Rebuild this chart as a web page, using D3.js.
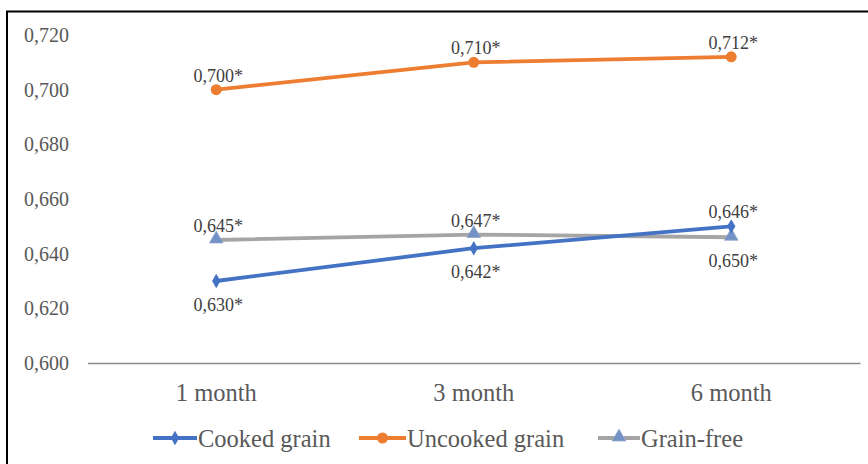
<!DOCTYPE html>
<html><head><meta charset="utf-8">
<script src="https://cdn.jsdelivr.net/npm/d3@7"></script>
<style>body{margin:0;background:#fff}svg{display:block}</style>
</head><body>
<svg id="c" width="868" height="464"></svg>
<script>
const categories = ["1 month", "3 month", "6 month"];
const cooked = [0.630, 0.642, 0.650];
const uncooked = [0.700, 0.710, 0.712];
const grainFree = [0.645, 0.647, 0.646];
const cookedLabels = ["0,630*", "0,642*", "0,646*"];
const uncookedLabels = ["0,700*", "0,710*", "0,712*"];
const grainFreeLabels = ["0,645*", "0,647*", "0,650*"];
const yTicks = [0.600, 0.620, 0.640, 0.660, 0.680, 0.700, 0.720];
const seriesNames = ["Cooked grain", "Uncooked grain", "Grain-free"];

const svg = d3.select("#c");
const font = "'Liberation Serif', 'Times New Roman', serif";

// frame
svg.append("path").attr("d", "M7,470 L7,11.5 L875,11.5").attr("fill", "none").attr("stroke", "#000").attr("stroke-width", 2);

const x = d3.scaleBand().domain(categories).range([87.5, 860]);
const y = d3.scaleLinear().domain([0.600, 0.720]).range([363, 35]);
const fmt = v => d3.format(".3f")(v).replace(".", ",");

// y tick labels
const yAxis = d3.axisLeft(y).tickValues(yTicks).tickFormat(fmt).tickSize(0).tickPadding(0);
const gy = svg.append("g").attr("transform", "translate(69,0)").call(yAxis);
gy.select(".domain").remove();
gy.selectAll("text").attr("font-family", font).attr("font-size", 20).attr("fill", "#595959");

// x axis
const xAxis = d3.axisBottom(x).tickSize(0).tickPadding(0);
const gx = svg.append("g").attr("transform", "translate(0,363)").call(xAxis);
gx.select(".domain").attr("stroke", "#8c8c8c").attr("stroke-width", 1.5);
gx.selectAll("text").attr("font-family", font).attr("font-size", 24.5).attr("fill", "#595959").attr("dy", 0).attr("y", 38);

const cx = c => x(c) + x.bandwidth() / 2;
const series = [
  {name: seriesNames[0], values: cooked, labels: cookedLabels, color: "#4472C4", marker: "diamond", place: ["below", "below", "above"]},
  {name: seriesNames[1], values: uncooked, labels: uncookedLabels, color: "#ED7D31", marker: "circle", place: ["above", "above", "above"]},
  {name: seriesNames[2], values: grainFree, labels: grainFreeLabels, color: "#A5A5A5", marker: "triangle", place: ["above", "above", "below"]}
];
const line = d3.line().x((d, i) => cx(categories[i])).y(d => y(d));

function marker(g, type, px, py) {
  if (type === "circle") g.append("circle").attr("cx", px).attr("cy", py).attr("r", 5.5).attr("fill", "#ED7D31");
  else if (type === "diamond") g.append("path").attr("d", d3.symbol(d3.symbolDiamond, 60)()).attr("transform", `translate(${px},${py})`).attr("fill", "#4472C4");
  else g.append("path").attr("d", d3.symbol(d3.symbolTriangle, 80)()).attr("transform", `translate(${px},${py - 1})`).attr("fill", "#7391C4").attr("stroke", "#8EA6CF").attr("stroke-width", 0.8);
}

const order = [1, 2, 0];
order.forEach(k => {
  const s = series[k];
  const g = svg.append("g");
  g.append("path").datum(s.values).attr("d", line).attr("fill", "none").attr("stroke", s.color).attr("stroke-width", 3.8).attr("stroke-linejoin", "round");
  s.values.forEach((v, i) => marker(g, s.marker, cx(categories[i]), y(v)));
});
series.forEach(s => {
  s.values.forEach((v, i) => {
    const above = s.place[i] === "above";
    svg.append("text").attr("x", cx(categories[i]) + 2).attr("y", y(v) + (above ? -8 : 30))
      .attr("text-anchor", "middle").attr("font-family", font).attr("font-size", 18).attr("fill", "#404040")
      .text(s.labels[i]);
  });
});

// legend
const legendPos = [{x1: 153, x2: 197}, {x1: 359, x2: 406}, {x1: 598, x2: 640}];
const ly = 438;
series.forEach((s, k) => {
  const p = legendPos[k];
  const g = svg.append("g");
  g.append("line").attr("x1", p.x1).attr("x2", p.x2).attr("y1", ly).attr("y2", ly).attr("stroke", s.color).attr("stroke-width", 3.8);
  marker(g, s.marker, (p.x1 + p.x2) / 2, ly);
  g.append("text").attr("x", p.x2 + 1).attr("y", ly + 8.5).attr("font-family", font).attr("font-size", 24.5).attr("fill", "#595959").text(s.name);
});
</script>
</body></html>
